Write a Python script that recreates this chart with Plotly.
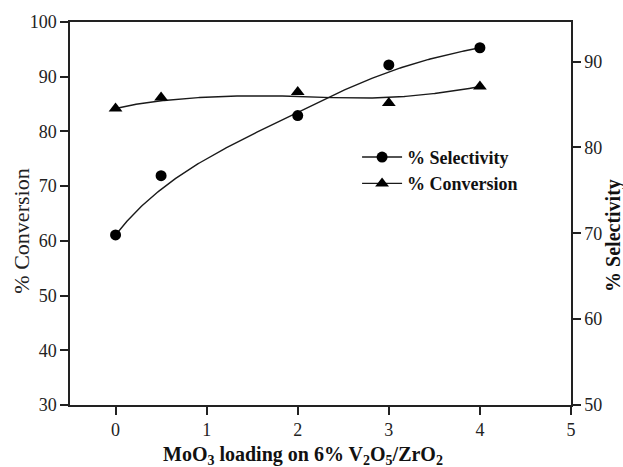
import numpy as np
import plotly.graph_objects as go

# Data
moo3_loading = [0, 0.5, 2, 3, 4]
selectivity = [69.8, 76.7, 83.7, 89.6, 91.6]   # right axis
conversion = [84.2, 86.2, 87.2, 85.2, 88.2]    # left axis

x_ticks = [0, 1, 2, 3, 4, 5]
left_ticks = [30, 40, 50, 60, 70, 80, 90, 100]
right_ticks = [50, 60, 70, 80, 90]


def bspline(cx, cy, degree=3, n=300):
    """Clamped cubic B-spline using the data points as control points."""
    P = np.column_stack([cx, cy]).astype(float)
    k = len(P)
    inner = np.linspace(0, 1, k - degree + 1)[1:-1]
    t = np.concatenate([[0.0] * (degree + 1), inner, [1.0] * (degree + 1)])
    out = []
    for u in np.linspace(0, 1, n):
        if u >= 1.0:
            out.append(P[-1])
            continue
        s = np.searchsorted(t, u, side="right") - 1
        d = [P[j + s - degree].copy() for j in range(degree + 1)]
        for r in range(1, degree + 1):
            for j in range(degree, r - 1, -1):
                i = j + s - degree
                a = (u - t[i]) / (t[i + degree + 1 - r] - t[i])
                d[j] = (1 - a) * d[j - 1] + a * d[j]
        out.append(d[degree])
    out = np.array(out)
    return out[:, 0], out[:, 1]


sx, sy = bspline(moo3_loading, selectivity)
cx, cy = bspline(moo3_loading, conversion)

SERIF = "Liberation Serif, Times New Roman, serif"
LINE = "#1a1a1a"
fig = go.Figure()

fig.add_trace(go.Scatter(x=sx, y=sy, mode="lines", yaxis="y2",
                         line=dict(color=LINE, width=1.4), showlegend=False, hoverinfo="skip"))
fig.add_trace(go.Scatter(x=cx, y=cy, mode="lines",
                         line=dict(color=LINE, width=1.4), showlegend=False, hoverinfo="skip"))
fig.add_trace(go.Scatter(x=moo3_loading, y=selectivity, mode="markers", yaxis="y2",
                         marker=dict(symbol="circle", size=11, color="black"), showlegend=False))
fig.add_trace(go.Scatter(x=moo3_loading, y=conversion, mode="markers",
                         marker=dict(symbol="triangle-up", size=12, color="black"), showlegend=False))
# legend entries
fig.add_trace(go.Scatter(x=[None], y=[None], mode="lines+markers", name="% Selectivity",
                         line=dict(color=LINE, width=1.4),
                         marker=dict(symbol="circle", size=11, color="black")))
fig.add_trace(go.Scatter(x=[None], y=[None], mode="lines+markers", name="% Conversion",
                         line=dict(color=LINE, width=1.4),
                         marker=dict(symbol="triangle-up", size=12, color="black")))

axis_common = dict(showline=True, linecolor="#222", linewidth=1.5, ticks="outside",
                   ticklen=8, tickwidth=1.5, tickcolor="#222", showgrid=False, zeroline=False,
                   tickfont=dict(family=SERIF, size=18, color="#222"))

fig.update_layout(
    width=623, height=467,
    margin=dict(l=70, r=52, t=20, b=62),
    paper_bgcolor="white", plot_bgcolor="white",
    xaxis=dict(range=[-0.5, 5], tickvals=x_ticks, mirror=True, **axis_common),
    yaxis=dict(range=[30, 100], tickvals=left_ticks, **axis_common),
    yaxis2=dict(range=[50, 94.6], tickvals=right_ticks, overlaying="y", side="right",
                **axis_common),
    legend=dict(x=0.573, y=0.695, xanchor="left", yanchor="top", bgcolor="rgba(0,0,0,0)",
                font=dict(family=SERIF, size=18, color="#111", weight="bold"),
                tracegroupgap=0, itemwidth=40),
    showlegend=True,
    annotations=[
        dict(text="<b>MoO<sub>3</sub> loading on 6% V<sub>2</sub>O<sub>5</sub>/ZrO<sub>2</sub></b>",
             xref="paper", yref="paper", x=0.465, y=-0.131, xanchor="center", yanchor="middle",
             showarrow=False, font=dict(family=SERIF, size=20, color="#111")),
        dict(text="% Conversion", textangle=-90,
             xref="paper", yref="paper", x=-0.096, y=0.455, xanchor="center", yanchor="middle",
             showarrow=False, font=dict(family=SERIF, size=22, color="#222")),
        dict(text="<b>% Selectivity</b>", textangle=-90,
             xref="paper", yref="paper", x=1.085, y=0.443, xanchor="center", yanchor="middle",
             showarrow=False, font=dict(family=SERIF, size=20, color="#111")),
    ],
)

fig.write_html("out.html")
